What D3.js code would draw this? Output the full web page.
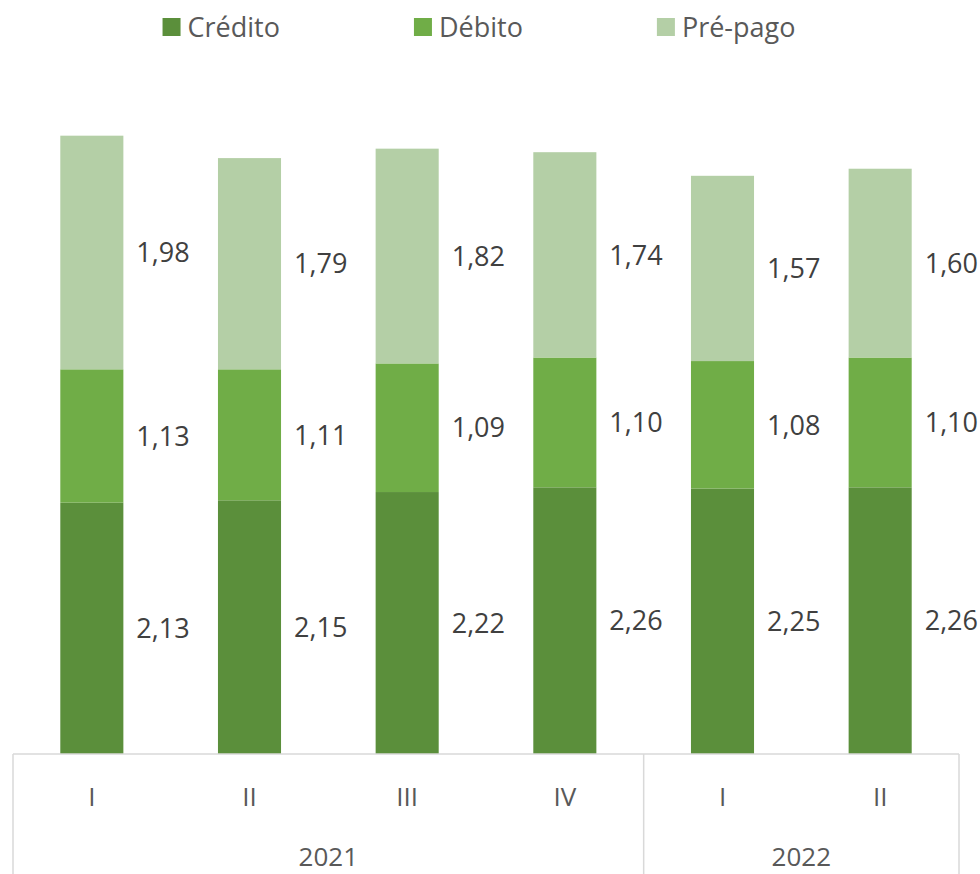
<!DOCTYPE html>
<html>
<head>
<meta charset="utf-8">
<script src="https://cdn.jsdelivr.net/npm/d3@7"></script>
<style>
  body { margin: 0; background: #fff; }
  svg text { font-family: "Open Sans", "Noto Sans", sans-serif; }
</style>
</head>
<body>
<svg id="chart" width="980" height="874"></svg>
<script>
// ---- data ----
const quarters = ["I", "II", "III", "IV", "I", "II"];
const years = ["2021", "2021", "2021", "2021", "2022", "2022"];
const credito = [2.13, 2.15, 2.22, 2.26, 2.25, 2.26];
const debito = [1.13, 1.11, 1.09, 1.10, 1.08, 1.10];
const prepago = [1.98, 1.79, 1.82, 1.74, 1.57, 1.60];
const seriesNames = ["Crédito", "Débito", "Pré-pago"];
const seriesKeys = ["credito", "debito", "prepago"];

// rows for d3.stack
let rows = quarters.map(function(q, i) {
  return {key: years[i] + "-" + q, quarter: q, year: years[i],
    credito: credito[i], debito: debito[i], prepago: prepago[i]};
});

// ---- svg setup ----
let svg = d3.select("#chart"),
    left = 13, right = 959, baseline = 754, bottom = 874,
    lineColor = "#d9d9d9",
    color = d3.scaleOrdinal().domain(seriesKeys).range(["#5b8f3b", "#70ad47", "#b4cfa6"]),
    fmt = d3.formatLocale({decimal: ",", thousands: ".", grouping: [3], currency: ["", ""]}).format(".2f");

// paddingOuter = paddingInner/2 so bands tile the range exactly
let x = d3.scaleBand()
  .domain(rows.map(function(d) { return d.key; }))
  .range([left, right])
  .paddingInner(0.6)
  .paddingOuter(0.3);

let y = d3.scaleLinear().domain([0, 6]).range([baseline, baseline - 6 * 118]);

let stacked = d3.stack().keys(seriesKeys)(rows);

// ---- bars ----
let layer = svg.selectAll(".layer")
  .data(stacked)
  .enter().append("g")
    .attr("class", "layer")
    .attr("fill", function(d) { return color(d.key); });

layer.selectAll("rect")
  .data(function(d) { return d; })
  .enter().append("rect")
    .attr("x", function(d) { return x(d.data.key); })
    .attr("y", function(d) { return y(d[1]); })
    .attr("width", x.bandwidth())
    .attr("height", function(d) { return y(d[0]) - y(d[1]); });

// ---- data labels, right of each segment ----
layer.selectAll("text")
  .data(function(d) { return d; })
  .enter().append("text")
    .attr("x", function(d) { return x(d.data.key) + x.bandwidth() + 13; })
    .attr("y", function(d) { return (y(d[0]) + y(d[1])) / 2; })
    .attr("dy", "0.36em")
    .attr("fill", "#404040")
    .style("font-size", "27px")
    .text(function(d) { return fmt(d[1] - d[0]); });

// ---- category axis (quarters) ----
let axis = svg.append("g")
  .attr("transform", "translate(0," + baseline + ")")
  .call(d3.axisBottom(x).tickSize(0).tickPadding(0)
    .tickFormat(function(k) { return k.split("-")[1]; }));
axis.select(".domain").remove();
axis.selectAll("text")
  .attr("y", 43)
  .attr("dy", "0.36em")
  .attr("fill", "#595959")
  .style("font-size", "26px")
  .style("font-family", "'Open Sans', sans-serif");

svg.append("line")
  .attr("x1", left).attr("x2", right)
  .attr("y1", baseline).attr("y2", baseline)
  .attr("stroke", lineColor).attr("stroke-width", 1.5);

// year group boundaries
let yearGroups = d3.groups(rows, function(d) { return d.year; });
let bounds = [left], idx = 0;
yearGroups.forEach(function(g) {
  idx += g[1].length;
  bounds.push(left + x.step() * idx);
});

svg.selectAll(".sep")
  .data(bounds)
  .enter().append("line")
    .attr("class", "sep")
    .attr("x1", function(d) { return d; }).attr("x2", function(d) { return d; })
    .attr("y1", baseline).attr("y2", bottom)
    .attr("stroke", lineColor).attr("stroke-width", 1.5);

svg.selectAll(".year")
  .data(yearGroups)
  .enter().append("text")
    .attr("class", "year")
    .attr("x", function(d, i) { return (bounds[i] + bounds[i + 1]) / 2; })
    .attr("y", baseline + 103)
    .attr("dy", "0.36em")
    .attr("text-anchor", "middle")
    .attr("fill", "#595959")
    .style("font-size", "26px")
    .text(function(d) { return d[0]; });

// ---- legend ----
let items = svg.append("g").attr("class", "legend")
  .selectAll(".legendItem")
  .data(seriesKeys)
  .enter().append("g")
    .attr("class", "legendItem");
items.append("rect")
  .attr("x", 0).attr("y", -9)
  .attr("width", 18).attr("height", 18)
  .attr("fill", function(d) { return color(d); });
items.append("text")
  .attr("x", 25)
  .attr("dy", "0.36em")
  .attr("fill", "#595959")
  .style("font-size", "27px")
  .text(function(d, i) { return seriesNames[i]; });

let widths = [];
items.each(function() { widths.push(this.getBBox().width); });
let gap = 134,
    total = d3.sum(widths) + gap * (widths.length - 1),
    pos = 479 - total / 2;
items.attr("transform", function(d, i) {
  let p = pos;
  pos += widths[i] + gap;
  return "translate(" + p + ",27)";
});
</script>
</body>
</html>
